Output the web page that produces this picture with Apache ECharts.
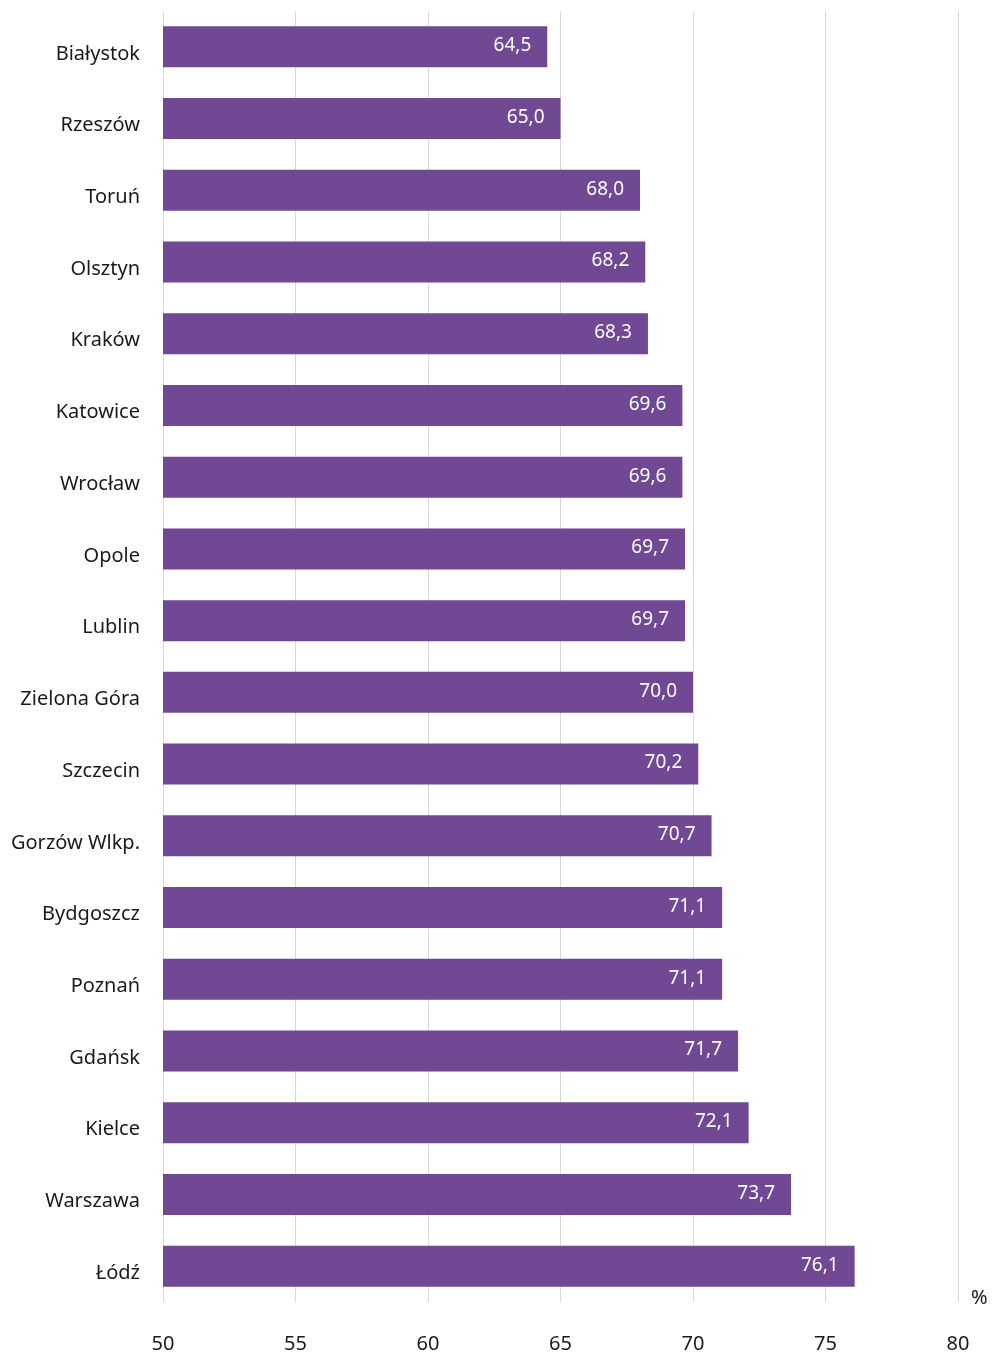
<!DOCTYPE html>
<html>
<head>
<meta charset="utf-8">
<script src="https://cdn.jsdelivr.net/npm/echarts@6/dist/echarts.min.js"></script>
<style>
  html, body { margin: 0; padding: 0; background: #fff; }
  #chart { width: 992px; height: 1354px; }
</style>
</head>
<body>
<div id="chart"></div>
<script>
const cities = ['Białystok', 'Rzeszów', 'Toruń', 'Olsztyn', 'Kraków', 'Katowice', 'Wrocław', 'Opole', 'Lublin',
  'Zielona Góra', 'Szczecin', 'Gorzów Wlkp.', 'Bydgoszcz', 'Poznań', 'Gdańsk', 'Kielce', 'Warszawa', 'Łódź'];
const values = [64.5, 65.0, 68.0, 68.2, 68.3, 69.6, 69.6, 69.7, 69.7, 70.0, 70.2, 70.7, 71.1, 71.1, 71.7, 72.1, 73.7, 76.1];
const xTicks = [50, 55, 60, 65, 70, 75, 80];

const font = '"Noto Sans", "Open Sans", sans-serif';
const myChart = echarts.init(document.getElementById('chart'));
myChart.setOption({
    animation: false,
    grid: { left: 163, right: 34, top: 11, bottom: 51, containLabel: false },
    xAxis: {
        type: 'value',
        min: xTicks[0],
        max: xTicks[xTicks.length - 1],
        interval: 5,
        name: '%',
        nameLocation: 'end',
        nameGap: 13,
        nameTextStyle: { color: '#1a1a1a', fontSize: 20, fontFamily: font, verticalAlign: 'bottom', lineHeight: 8 },
        axisLine: { show: false },
        axisTick: { show: false },
        splitLine: { show: true, lineStyle: { color: '#d9d9d9', width: 1 } },
        axisLabel: { color: '#1a1a1a', fontSize: 20, fontFamily: font, margin: 32 }
    },
    yAxis: {
        type: 'category',
        inverse: true,
        data: cities,
        axisLine: { show: false },
        axisTick: { show: false },
        axisLabel: { color: '#1a1a1a', fontSize: 20, fontFamily: font, margin: 23, verticalAlign: 'top', lineHeight: 14 }
    },
    series: [{
        type: 'bar',
        data: values,
        barWidth: 41,
        itemStyle: { color: '#714893' },
        label: {
            show: true,
            position: 'insideRight',
            distance: 16,
            offset: [0, -1],
            color: '#fff',
            fontSize: 19,
            fontFamily: font,
            formatter: p => p.value.toFixed(1).replace('.', ',')
        }
    }]
});
</script>
</body>
</html>
